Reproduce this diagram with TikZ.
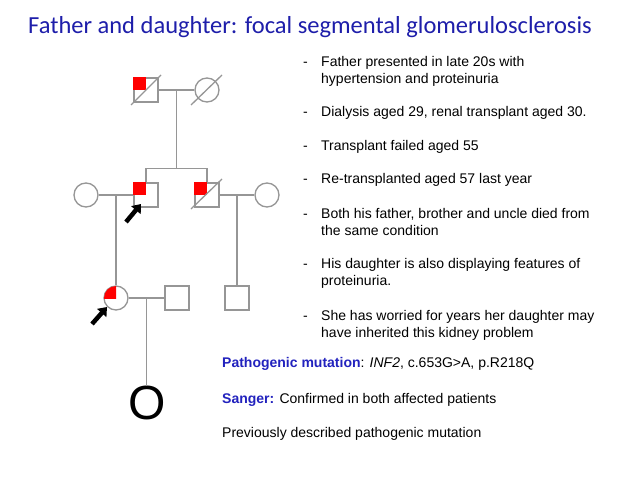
\documentclass[tikz,border=0pt]{standalone}
\usepackage{fontspec}
\setmainfont{Liberation Sans}
\newfontfamily\titlefont{Carlito}
\usetikzlibrary{arrows.meta,calc}
\definecolor{pedgray}{RGB}{150,150,150}
\definecolor{titleblue}{RGB}{30,30,170}
\definecolor{labelblue}{RGB}{34,34,190}
\definecolor{affred}{RGB}{255,0,0}
\begin{document}
\begin{tikzpicture}[x=1pt,y=-1pt,
  male/.style={draw=pedgray, line width=1.3pt, minimum size=24pt, inner sep=0pt, rectangle, fill=white},
  female/.style={draw=pedgray, line width=1.3pt, minimum size=24pt, inner sep=0pt, circle, fill=white},
  rel/.style={draw=pedgray, line width=1.3pt},
  probarrow/.style={line width=4.5pt, -{Triangle[length=8pt,width=12pt]}},
  txt/.style={anchor=base west, inner sep=0pt, font=\fontsize{14}{17}\selectfont},
  lbl/.style={text=labelblue, font=\bfseries}]
\fill[white] (0,0) rectangle (638,479);
\useasboundingbox (0,0) rectangle (638,479);
% title
\node[anchor=base west, inner sep=0pt, font=\titlefont\fontsize{24.5}{28}\selectfont, text=titleblue] (title) at (28,33) {Father and daughter: focal segmental glomerulosclerosis};
% pedigree nodes
\node[male] (gf) at (146,90) {};
\node[female] (gm) at (207,90) {};
\node[male] (fa) at (146,195) {};
\node[male] (un) at (207,195) {};
\node[female] (mo) at (86,195) {};
\node[female] (au) at (267,195) {};
\node[female] (da) at (116,298) {};
\node[male] (hu) at (177,298) {};
\node[male] (co) at (237,298) {};
\node[inner sep=0pt, font=\fontsize{48}{50}\selectfont] (ch) at (147,403) {O};
% relationship lines
\coordinate (m1) at ($(gf.east)!0.5!(gm.west)$);
\coordinate (m2) at ($(mo.east)!0.5!(fa.west)$);
\coordinate (m3) at ($(un.east)!0.5!(au.west)$);
\coordinate (m4) at ($(da.east)!0.5!(hu.west)$);
\coordinate (sib) at (m1 |- 0,169);
\draw[rel] (gf.east) -- (gm.west);
\draw[rel] (m1) -- (sib);
\draw[rel] (fa.north) -- ++(0,-14) -| (un.north);
\draw[rel] (mo.east) -- (fa.west);
\draw[rel] (un.east) -- (au.west);
\draw[rel] (m2) -- (m2 |- da.north);
\draw[rel] (m3) -- (co.north);
\draw[rel] (da.east) -- (hu.west);
\draw[rel] (m4) -- (m4 |- ch.north);
% affected quarters
\fill[affred] (gf.north west) rectangle (gf.center);
\fill[affred] (fa.north west) rectangle (fa.center);
\fill[affred] (un.north west) rectangle (un.center);
\begin{scope}
  \clip (da.center) rectangle ++(-14,-14);
  \fill[affred] (da.center) circle[radius=12pt];
\end{scope}
% deceased slashes
\draw[rel] ($(gf.center)+(-15,15)$) -- ($(gf.center)+(15,-15)$);
\draw[rel] ($(gm.center)+(-16,15)$) -- ($(gm.center)+(15,-15)$);
\draw[rel] ($(un.center)+(-16,14)$) -- ($(un.center)+(15,-16)$);
% proband arrows
\coordinate (a1t) at (126,222);
\coordinate (a1h) at (141,204);
\coordinate (a2t) at (92,324);
\coordinate (a2h) at (107,307);
\draw[probarrow] (a1t) -- (a1h);
\draw[probarrow] (a2t) -- (a2h);
% bullet list
\foreach \y/\n in {66/1,116/2,150/3,183/4,218/5,268/6,320/7}
  \node[txt] (d\n) at (303,\y) {-};
\node[txt] (t1) at (321,66) {Father presented in late 20s with};
\node[txt] (t1b) at (321,83) {hypertension and proteinuria};
\node[txt] (t2) at (321,116) {Dialysis aged 29, renal transplant aged 30.};
\node[txt] (t3) at (321,150) {Transplant failed aged 55};
\node[txt] (t4) at (321,183) {Re-transplanted aged 57 last year};
\node[txt] (t5) at (321,218) {Both his father, brother and uncle died from};
\node[txt] (t5b) at (321,235) {the same condition};
\node[txt] (t6) at (321,268) {His daughter is also displaying features of};
\node[txt] (t6b) at (321,285) {proteinuria.};
\node[txt] (t7) at (321,320) {She has worried for years her daughter may};
\node[txt] (t7b) at (321,337) {have inherited this kidney problem};
% findings
\node[txt] (p1) at (222,367) {{\color{labelblue}\bfseries Pathogenic mutation}: \textit{INF2}, c.653G>A, p.R218Q};
\node[txt] (p2) at (222,403) {{\color{labelblue}\bfseries Sanger:} Confirmed in both affected patients};
\node[txt] (p3) at (222,437) {Previously described pathogenic mutation};
\end{tikzpicture}
\end{document}
